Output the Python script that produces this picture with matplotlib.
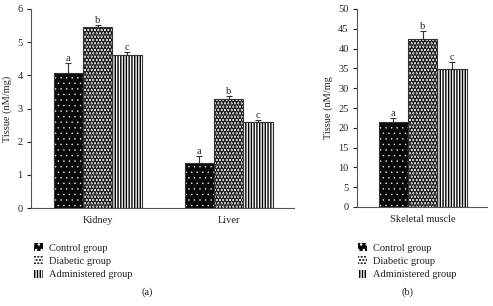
import matplotlib.pyplot as plt
import numpy as np

plt.rcParams['font.family'] = ['Liberation Serif', 'DejaVu Serif']
plt.rcParams['hatch.linewidth'] = 1.0

groups = ["Control group", "Diabetic group", "Administered group"]
letters = ["a", "b", "c"]

organs_a = ["Kidney", "Liver"]
control_a = [4.06, 1.35]
control_a_err = [0.30, 0.22]
diabetic_a = [5.47, 3.28]
diabetic_a_err = [0.05, 0.10]
admin_a = [4.61, 2.59]
admin_a_err = [0.08, 0.05]

organs_b = ["Skeletal muscle"]
control_b = [21.4]
control_b_err = [1.2]
diabetic_b = [42.3]
diabetic_b_err = [2.1]
admin_b = [34.8]
admin_b_err = [1.7]

W, H = 493, 306
fig = plt.figure(figsize=(W / 100, H / 100), dpi=100)
ax_a = fig.add_axes([31 / W, 1 - 208 / H, 263 / W, 199 / H])
ax_b = fig.add_axes([357 / W, 1 - 207 / H, 130 / W, 198 / H])

styles = [
    dict(face='#080808', hatch='...', hcol='white', hlw=0.25),
    dict(face='white', hatch='.....', hcol='black', hlw=2.2),
    dict(face='white', hatch='||||||', hcol='black', hlw=1.0),
]
edge = '#333333'
txt = '#222222'
bw = 0.224
fs = 7.5


def draw(ax, organs, series, errs):
    x = np.arange(len(organs))
    handles = []
    for i, (vals, err) in enumerate(zip(series, errs)):
        pos = x + (i - 1) * bw
        st = styles[i]
        b = ax.bar(pos, vals, bw, color=st['face'], hatch=st['hatch'],
                   edgecolor=st['hcol'], linewidth=0, zorder=2)
        for p in b.patches:
            try:
                p.set_hatch_linewidth(st['hlw'])
            except AttributeError:
                pass
        ax.bar(pos, vals, bw, fill=False, edgecolor=edge, linewidth=0.8,
               zorder=3)
        ax.errorbar(pos, vals, yerr=[np.zeros(len(vals)), err], fmt='none',
                    ecolor=edge, elinewidth=0.8, capsize=2.5, capthick=0.8,
                    zorder=4)
        for p, v, e in zip(pos, vals, err):
            ax.text(p, v + e, letters[i], ha='center', va='bottom',
                    fontsize=fs, color=txt)
        handles.append(b)
    ax.set_xticks(x)
    ax.set_xticklabels(organs, fontsize=fs, color=txt)
    ax.tick_params(axis='x', length=0, pad=6)
    ax.tick_params(axis='y', direction='out', length=3, width=0.8,
                   labelsize=fs, colors=txt, pad=3)
    for s in ['top', 'right']:
        ax.spines[s].set_visible(False)
    for s in ['left', 'bottom']:
        ax.spines[s].set_color('#555555')
        ax.spines[s].set_linewidth(0.8)
    return handles


h = draw(ax_a, organs_a, [control_a, diabetic_a, admin_a],
         [control_a_err, diabetic_a_err, admin_a_err])
ax_a.set_ylim(0, 6)
ax_a.set_yticks(range(0, 7))
ax_a.set_xlim(-0.51, 1.50)
ax_a.set_ylabel("Tissue (nM/mg)", fontsize=fs, color=txt, labelpad=4)

draw(ax_b, organs_b, [control_b, diabetic_b, admin_b],
     [control_b_err, diabetic_b_err, admin_b_err])
ax_b.set_ylim(0, 50)
ax_b.set_yticks(range(0, 51, 5))
ax_b.set_xlim(-0.5, 0.49)
ax_b.set_ylabel("Tissue (nM/mg", fontsize=fs, color=txt, labelpad=4)

for xa in [29 / W, 353 / W]:
    fig.legend(h, groups, loc='upper left', bbox_to_anchor=(xa, 1 - 238 / H),
               frameon=False, fontsize=fs, handlelength=0.8, handleheight=0.8,
               handletextpad=0.6, labelspacing=0.35, borderpad=0,
               labelcolor=txt)

fig.text(147 / W, 1 - 292 / H, "(a)", ha='center', va='center', fontsize=fs,
         color=txt)
fig.text(408 / W, 1 - 292 / H, "(b)", ha='center', va='center', fontsize=fs,
         color=txt)

fig.savefig("out.png", dpi=100)
